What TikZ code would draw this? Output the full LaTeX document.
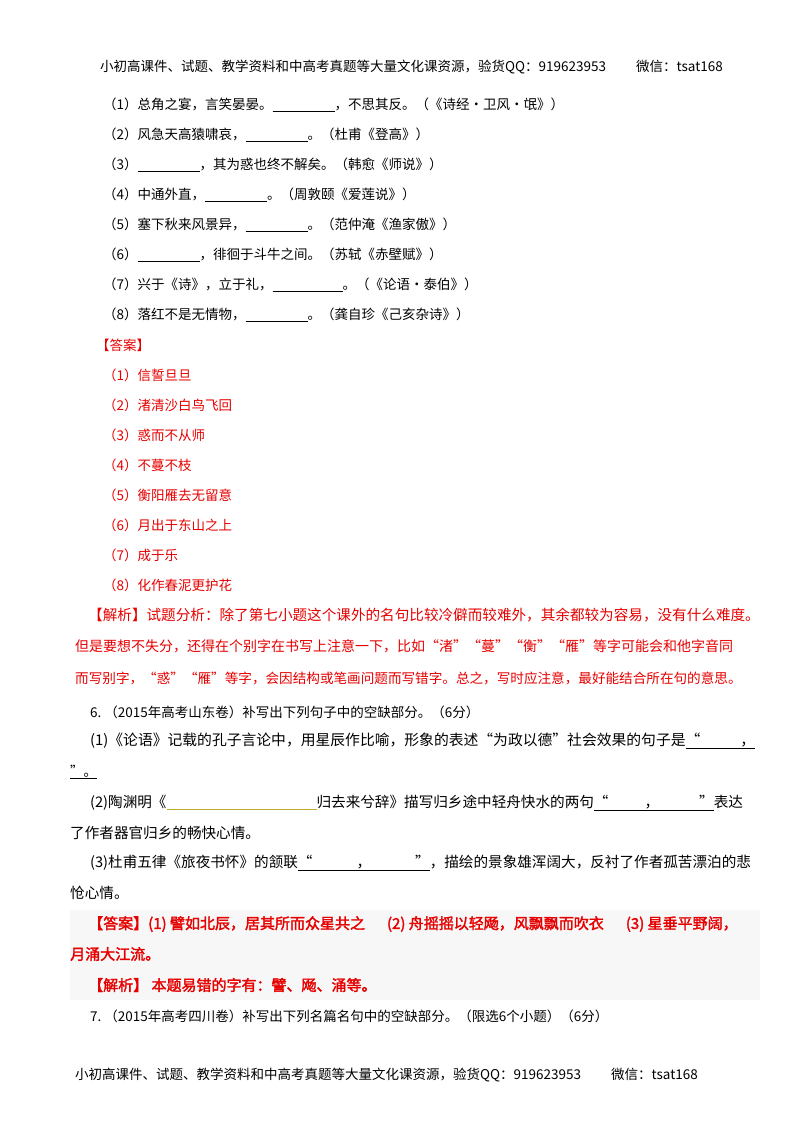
\documentclass[tikz,border=0pt]{standalone}
\usepackage{fontspec}
\setmainfont{Noto Sans CJK SC}[AutoFakeBold=2]
\definecolor{ans}{RGB}{230,0,0}
\newcommand{\blank}[1]{\underline{\makebox[#1pt]{}}}
\begin{document}
\begin{tikzpicture}[x=1pt,y=-1pt,
  t/.style={anchor=west,inner sep=0pt,font=\fontsize{13.5}{14}\selectfont},
  r/.style={t,text=ans},
  w/.style={font=\fontsize{14.6}{15}\selectfont}]
\useasboundingbox (0,0) rectangle (800,1132);
\node[t] (h) at (100,67) {小初高课件、试题、教学资料和中高考真题等大量文化课资源，验货QQ：919623953\hspace{30pt}微信：tsat168};
\node[t] (a1) at (103,105) {（1）总角之宴，言笑晏晏。\blank{62}，不思其反。（《诗经·卫风·氓》）};
\node[t] (a2) at (103,135) {（2）风急天高猿啸哀，\blank{62}。（杜甫《登高》）};
\node[t] (a3) at (103,165) {（3）\blank{62}，其为惑也终不解矣。（韩愈《师说》）};
\node[t] (a4) at (103,195) {（4）中通外直，\blank{62}。（周敦颐《爱莲说》）};
\node[t] (a5) at (103,225) {（5）塞下秋来风景异，\blank{62}。（范仲淹《渔家傲》）};
\node[t] (a6) at (103,255) {（6）\blank{62}，徘徊于斗牛之间。（苏轼《赤壁赋》）};
\node[t] (a7) at (103,285) {（7）兴于《诗》，立于礼，\blank{70}。（《论语·泰伯》）};
\node[t] (a8) at (103,315) {（8）落红不是无情物，\blank{62}。（龚自珍《己亥杂诗》）};
\node[r] (d0) at (96,345) {【答案】};
\node[r] (d1) at (103,375) {（1）信誓旦旦};
\node[r] (d2) at (103,405) {（2）渚清沙白鸟飞回};
\node[r] (d3) at (103,435) {（3）惑而不从师};
\node[r] (d4) at (103,465) {（4）不蔓不枝};
\node[r] (d5) at (103,495) {（5）衡阳雁去无留意};
\node[r] (d6) at (103,525) {（6）月出于东山之上};
\node[r] (d7) at (103,555) {（7）成于乐};
\node[r] (d8) at (103,585) {（8）化作春泥更护花};
\node[r,w] (j1) at (88,615) {【解析】试题分析：除了第七小题这个课外的名句比较冷僻而较难外，其余都较为容易，没有什么难度。};
\node[r,font=\fontsize{14}{15}\selectfont] (j2) at (75,646) {但是要想不失分，还得在个别字在书写上注意一下，比如“渚”“蔓”“衡”“雁”等字可能会和他字音同};
\node[r,font=\fontsize{13.6}{15}\selectfont] (j3) at (75,678) {而写别字，“惑”“雁”等字，会因结构或笔画问题而写错字。总之，写时应注意，最好能结合所在句的意思。};
\node[t] (q6) at (90,712) {6.\ （2015年高考山东卷）补写出下列句子中的空缺部分。（6分）};
\node[t,font=\fontsize{14.8}{15}\selectfont] (q61) at (90,741) {(1)《论语》记载的孔子言论中，用星辰作比喻，形象的表述“为政以德”社会效果的句子是\underline{“\makebox[40pt]{}，}};
\node[t] (q61b) at (70,772) {\underline{”。}};
\node[t,w] (q62) at (90,803) {(2)陶渊明《\textcolor[RGB]{190,170,40}{\rule[-2pt]{150pt}{0.8pt}}归去来兮辞》描写归乡途中轻舟快水的两句\underline{“\makebox[36pt]{}，\makebox[40pt]{}”}表达};
\node[t,w] (q62b) at (70,833) {了作者器官归乡的畅快心情。};
\node[t,w] (q63) at (90,863) {(3)杜甫五律《旅夜书怀》的颔联\underline{“\makebox[44pt]{}，\makebox[44pt]{}”}，描绘的景象雄浑阔大，反衬了作者孤苦漂泊的悲};
\node[t,w] (q63b) at (70,893) {怆心情。};
\fill[black!3] (70,910) rectangle (760,1000);
\node[r,font=\fontsize{15}{15}\selectfont\bfseries] (e1) at (88,924) {【答案】(1) 譬如北辰，居其所而众星共之\hspace{22pt}(2) 舟摇摇以轻飏，风飘飘而吹衣\hspace{22pt}(3) 星垂平野阔，};
\node[r,font=\fontsize{15}{15}\selectfont\bfseries] (e2) at (70,954) {月涌大江流。};
\node[r,font=\fontsize{15}{15}\selectfont\bfseries] (e3) at (88,985) {【解析】 本题易错的字有：譬、飏、涌等。};
\node[t] (q7) at (90,1016) {7.\ （2015年高考四川卷）补写出下列名篇名句中的空缺部分。（限选6个小题）（6分）};
\node[t] (f) at (75,1075) {小初高课件、试题、教学资料和中高考真题等大量文化课资源，验货QQ：919623953\hspace{30pt}微信：tsat168};
\end{tikzpicture}
\end{document}
